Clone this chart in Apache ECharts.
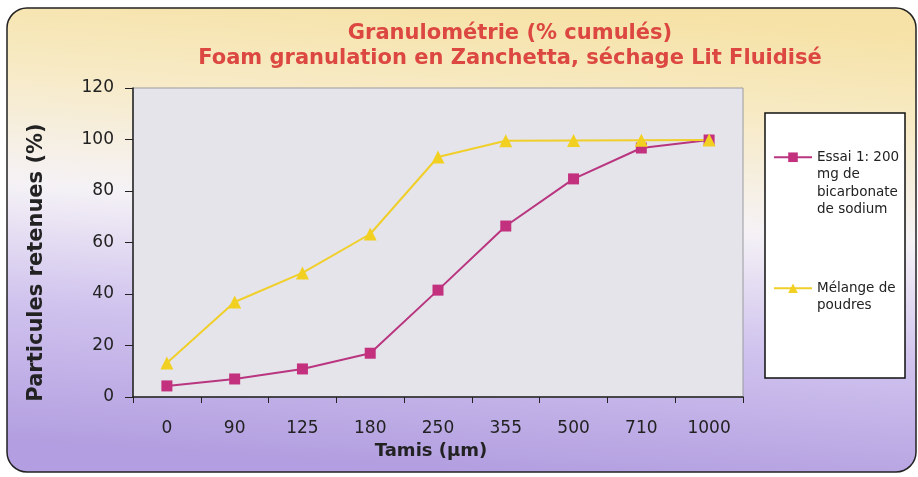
<!DOCTYPE html>
<html>
<head>
<meta charset="utf-8">
<script src="https://cdn.jsdelivr.net/npm/echarts@6/dist/echarts.min.js"></script>
<style>
  html, body { margin: 0; padding: 0; background: #ffffff; }
  #chart { width: 918px; height: 477px; }
</style>
</head>
<body>
<div id="chart"></div>
<script>
const tamis = ["0", "90", "125", "180", "250", "355", "500", "710", "1000"]
const essai1 = [4.3, 7, 10.9, 17, 41.5, 66.4, 84.7, 96.7, 99.8]
const melange = [13.2, 36.9, 48.2, 63.3, 93.2, 99.5, 99.6, 99.7, 99.8]
const yTicks = { min: 0, max: 120, step: 20 }

const font = "'DejaVu Sans', 'Liberation Sans', Arial, sans-serif"
const essaiName = "Essai 1: 200\nmg de\nbicarbonate\nde sodium"
const melangeName = "Mélange de\npoudres"

const chart = echarts.init(document.getElementById("chart"))

// lignes vides devant le texte pour aligner le symbole sur la 1re ligne
const padLines = (name) => "\n".repeat(name.split("\n").length - 1) + name

const legendBase = {
  orient: "vertical",
  left: 773,
  padding: 0,
  itemWidth: 38,
  itemHeight: 12,
  formatter: padLines,
  textStyle: {
    fontFamily: font,
    fontSize: 13.5,
    lineHeight: 17.5,
    color: "#222"
  }
}

const option = {
  animation: false,
  graphic: [
    {
      // fond arrondi avec dégradé (jaune en haut, mauve en bas)
      type: "rect",
      z: -10,
      shape: { x: 7, y: 8, width: 909, height: 464, r: 20 },
      style: {
        fill: new echarts.graphic.LinearGradient(460, 0, 429, 470, [
          { offset: 0, color: "#f6e2a6" },
          { offset: 0.2, color: "#f7eac4" },
          { offset: 0.45, color: "#f5f2f6" },
          { offset: 0.7, color: "#d0c3ee" },
          { offset: 1, color: "#b29ee0" }
        ], true),
        stroke: "#222",
        lineWidth: 1.5
      }
    },
    {
      // cadre de la légende
      type: "rect",
      z: -5,
      shape: { x: 765, y: 113, width: 140, height: 265 },
      style: { fill: "#ffffff", stroke: "#111", lineWidth: 1.5 }
    }
  ],
  title: {
    text: "Granulométrie (% cumulés)\nFoam granulation en Zanchetta, séchage Lit Fluidisé",
    left: 510,
    top: 21,
    padding: 0,
    textAlign: "center",
    textStyle: {
      fontFamily: font,
      fontSize: 21,
      fontWeight: "bold",
      lineHeight: 25,
      color: "#dc4741"
    }
  },
  legend: [
    Object.assign({}, legendBase, { top: 96, data: [essaiName] }),
    Object.assign({}, legendBase, { top: 262, data: [melangeName] })
  ],
  grid: {
    left: 133,
    right: 175,
    top: 88,
    bottom: 80,
    show: true,
    backgroundColor: "#e5e4eb",
    borderColor: "#9a9aa0",
    borderWidth: 1
  },
  xAxis: {
    type: "category",
    data: tamis,
    name: "Tamis (µm)",
    nameLocation: "middle",
    nameGap: 38,
    nameTextStyle: {
      fontFamily: font, fontSize: 18, fontWeight: "bold", color: "#222",
      padding: [0, 14, 0, 0]
    },
    axisLine: { lineStyle: { color: "#222", width: 1.5 } },
    axisTick: { show: true, length: 6, lineStyle: { color: "#222" } },
    axisLabel: { fontFamily: font, fontSize: 17, color: "#222", margin: 23 },
    splitLine: { show: false }
  },
  yAxis: {
    type: "value",
    min: yTicks.min,
    max: yTicks.max,
    interval: yTicks.step,
    name: "Particules retenues (%)",
    nameLocation: "middle",
    nameGap: 86,
    nameTextStyle: {
      fontFamily: font, fontSize: 21, fontWeight: "bold", color: "#222",
      padding: [0, 40, 0, 0]
    },
    axisLine: { show: true, lineStyle: { color: "#222", width: 1.5 } },
    axisTick: { show: true, length: 8, lineStyle: { color: "#222" } },
    axisLabel: { fontFamily: font, fontSize: 17, color: "#222", margin: 19 },
    splitLine: { show: false }
  },
  series: [
    {
      name: essaiName,
      type: "line",
      data: essai1,
      symbol: "rect",
      symbolSize: 11,
      lineStyle: { color: "#b9357f", width: 2 },
      itemStyle: { color: "#c2307e" }
    },
    {
      name: melangeName,
      type: "line",
      data: melange,
      symbol: "triangle",
      symbolSize: 13,
      lineStyle: { color: "#f0cf2a", width: 2 },
      itemStyle: { color: "#f2d022" }
    }
  ]
}

chart.setOption(option)
</script>
</body>
</html>
